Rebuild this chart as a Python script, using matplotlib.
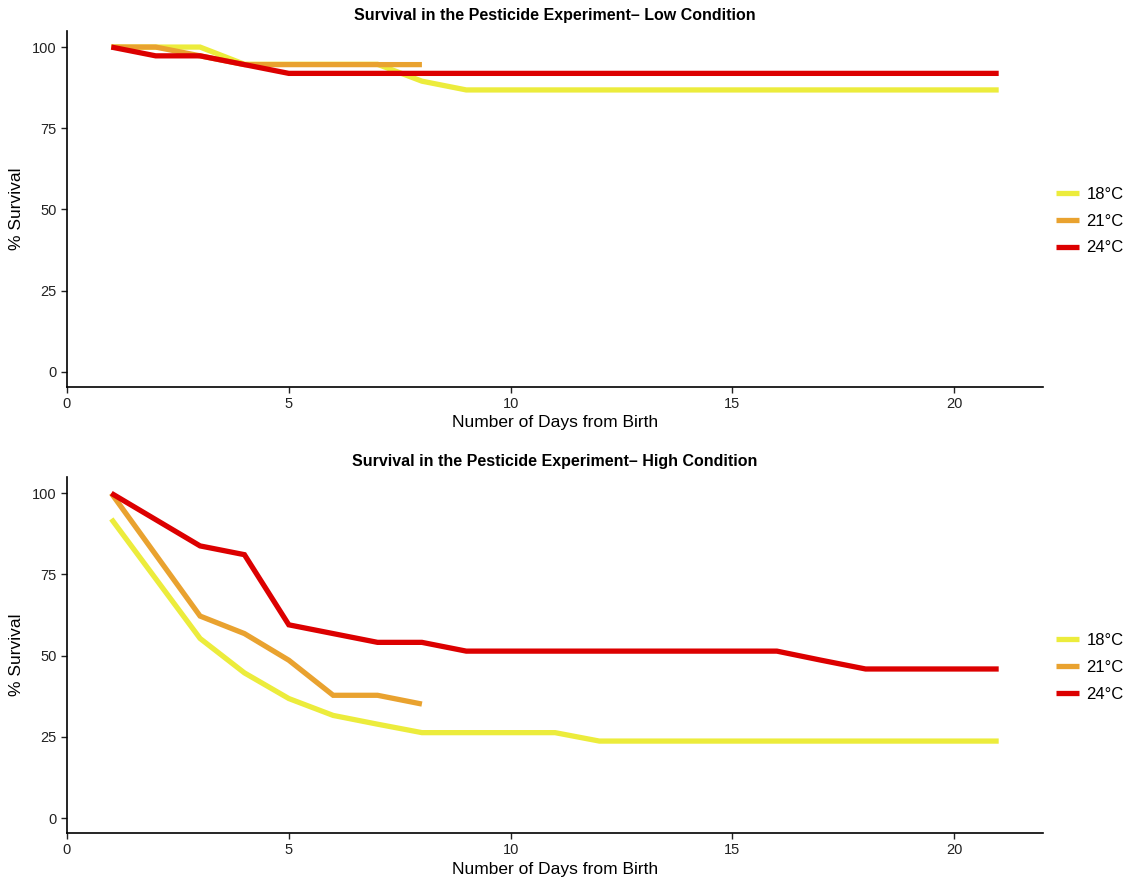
import matplotlib.pyplot as plt

plt.rcParams['font.family'] = ['Liberation Sans', 'DejaVu Sans']

# data
labels = ['18°C', '21°C', '24°C']
colors = ['#ECEC3C', '#E9A22F', '#DC0000']

low_days_18 = list(range(1, 22))
low_18 = [100, 100, 100, 94.7, 94.7, 94.7, 94.7, 89.5, 86.8, 86.8, 86.8, 86.8,
          86.8, 86.8, 86.8, 86.8, 86.8, 86.8, 86.8, 86.8, 86.8]
low_days_21 = list(range(1, 9))
low_21 = [100, 100, 97.3, 94.6, 94.6, 94.6, 94.6, 94.6]
low_days_24 = list(range(1, 22))
low_24 = [100, 97.3, 97.3, 94.6, 91.9, 91.9, 91.9, 91.9, 91.9, 91.9, 91.9, 91.9,
          91.9, 91.9, 91.9, 91.9, 91.9, 91.9, 91.9, 91.9, 91.9]

high_days_18 = list(range(1, 22))
high_18 = [92.1, 73.7, 55.3, 44.7, 36.8, 31.6, 28.9, 26.3, 26.3, 26.3, 26.3, 23.7,
           23.7, 23.7, 23.7, 23.7, 23.7, 23.7, 23.7, 23.7, 23.7]
high_days_21 = list(range(1, 9))
high_21 = [100, 81.1, 62.2, 56.8, 48.6, 37.8, 37.8, 35.1]
high_days_24 = list(range(1, 22))
high_24 = [100, 91.9, 83.8, 81.1, 59.5, 56.8, 54.1, 54.1, 51.4, 51.4, 51.4, 51.4,
           51.4, 51.4, 51.4, 51.4, 48.6, 45.9, 45.9, 45.9, 45.9]

panels = [
    ('Survival in the Pesticide Experiment\u2013 Low Condition',
     [(low_days_18, low_18), (low_days_21, low_21), (low_days_24, low_24)]),
    ('Survival in the Pesticide Experiment\u2013 High Condition',
     [(high_days_18, high_18), (high_days_21, high_21), (high_days_24, high_24)]),
]

fig = plt.figure(figsize=(11.35, 8.81), dpi=100)
axes_pos = [[0.059, 0.561, 0.860, 0.404], [0.059, 0.0545, 0.860, 0.404]]

for pos, (title, series) in zip(axes_pos, panels):
    ax = fig.add_axes(pos)
    for (x, y), c, lab in zip(series, colors, labels):
        ax.plot(x, y, color=c, lw=3.8, label=lab, solid_capstyle='butt',
                solid_joinstyle='miter')
    ax.set_xlim(0, 22)
    ax.set_ylim(-4.6, 105)
    ax.set_xticks([0, 5, 10, 15, 20])
    ax.set_yticks([0, 25, 50, 75, 100])
    ax.spines['top'].set_visible(False)
    ax.spines['right'].set_visible(False)
    ax.spines['left'].set_linewidth(1.2)
    ax.spines['bottom'].set_linewidth(1.2)
    ax.tick_params(length=4, width=1, labelsize=10.5, colors='#222222')
    ax.set_title(title, fontsize=11.5, fontweight='bold', pad=8)
    ax.set_xlabel('Number of Days from Birth', fontsize=12.5, labelpad=3)
    ax.set_ylabel('% Survival', fontsize=12.5, labelpad=6)
    ax.legend(loc='center left', bbox_to_anchor=(1.013, 0.465), frameon=False,
              fontsize=12, handlelength=1.4, handletextpad=0.45,
              labelspacing=0.7, borderpad=0, borderaxespad=0)

fig.savefig('out.png', dpi=100)
